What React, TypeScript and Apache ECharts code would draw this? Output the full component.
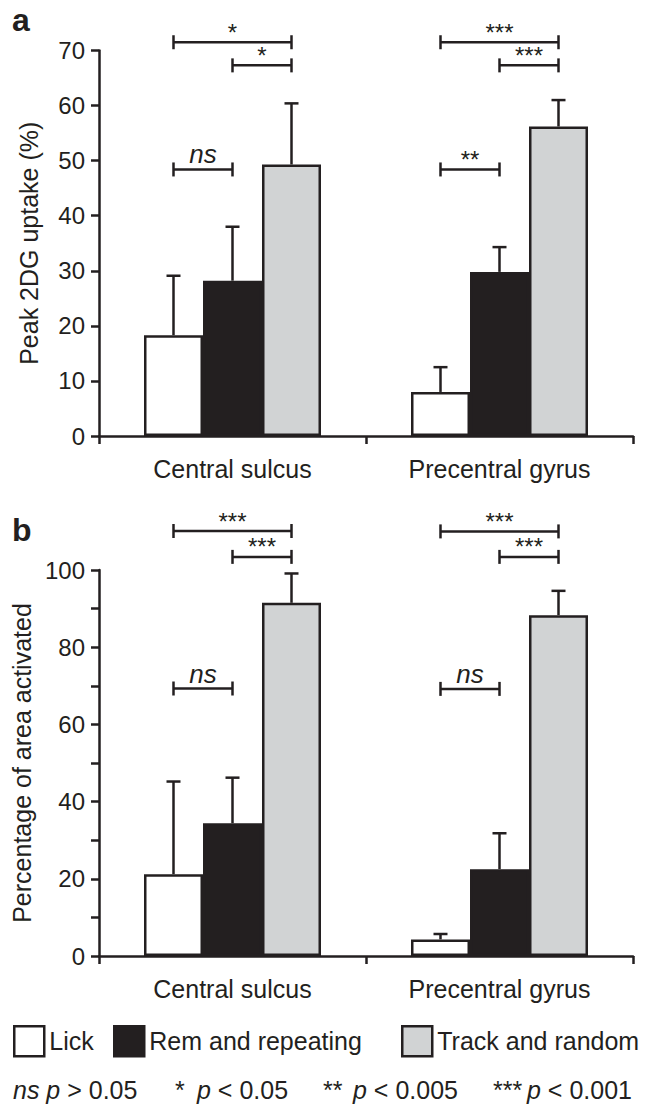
import React, { useEffect, useRef } from "react";
import * as echarts from "echarts";

const categories = ["Central sulcus", "Precentral gyrus"];
const seriesNames = ["Lick", "Rem and repeating", "Track and random"];
const seriesColors = ["#ffffff", "#231f20", "#d1d3d4"];

// Panel a: Peak 2DG uptake (%)
const uptakeMean = [
  [18.3, 8.0],
  [28.2, 29.8],
  [49.3, 56.2],
];
const uptakeErrTop = [
  [29.1, 12.5],
  [38.0, 34.3],
  [60.4, 61.0],
];
// Panel b: Percentage of area activated
const areaMean = [
  [21.2, 4.3],
  [34.4, 22.5],
  [91.5, 88.3],
];
const areaErrTop = [
  [45.2, 5.7],
  [46.2, 31.8],
  [99.1, 94.6],
];

// brackets: [category, fromBar, toBar, yValue]
const bracketsA = [
  [0, 0, 2, 71.5],
  [0, 1, 2, 67.3],
  [0, 0, 1, 48.4],
  [1, 0, 2, 71.5],
  [1, 1, 2, 67.3],
  [1, 0, 1, 48.4],
];
const bracketLabelsA = ["*", "*", "ns", "***", "***", "**"];
const bracketsB = [
  [0, 0, 2, 110.1],
  [0, 1, 2, 103.4],
  [0, 0, 1, 69.3],
  [1, 0, 2, 110.0],
  [1, 1, 2, 103.4],
  [1, 0, 1, 69.2],
];
const bracketLabelsB = ["***", "***", "ns", "***", "***", "ns"];

const FONT = '"Liberation Sans", Arial, Helvetica, sans-serif';
const INK = "#231f20";
const BW = 59;
const LW = 2.5;

function errSeries(gi: number, means: number[][], tops: number[][], k: number) {
  return {
    type: "custom",
    xAxisIndex: gi,
    yAxisIndex: gi,
    silent: true,
    z: 3,
    data: means[k].map((m, c) => [c, m, tops[k][c]]),
    encode: { x: 0, y: [1, 2] },
    renderItem: (params: any, api: any) => {
      const base = api.coord([api.value(0), api.value(1)]);
      const top = api.coord([api.value(0), api.value(2)]);
      const x = base[0] + (k - 1) * BW;
      const st = { stroke: INK, lineWidth: LW };
      return {
        type: "group",
        children: [
          { type: "line", shape: { x1: x, y1: base[1], x2: x, y2: top[1] }, style: st },
          { type: "line", shape: { x1: x - 7, y1: top[1], x2: x + 7, y2: top[1] }, style: st },
        ],
      };
    },
  };
}

function bracketSeries(gi: number, data: number[][], labels: string[]) {
  return {
    type: "custom",
    xAxisIndex: gi,
    yAxisIndex: gi,
    silent: true,
    clip: false,
    z: 4,
    data,
    encode: { x: 0, y: 3 },
    renderItem: (params: any, api: any) => {
      const p = api.coord([api.value(0), api.value(3)]);
      const x1 = p[0] + (api.value(1) - 1) * BW;
      const x2 = p[0] + (api.value(2) - 1) * BW;
      const y = p[1];
      const st = { stroke: INK, lineWidth: LW };
      const lab = labels[params.dataIndex];
      const isNs = lab === "ns";
      return {
        type: "group",
        children: [
          { type: "line", shape: { x1, y1: y, x2, y2: y }, style: st },
          { type: "line", shape: { x1, y1: y - 7, x2: x1, y2: y + 7 }, style: st },
          { type: "line", shape: { x1: x2, y1: y - 7, x2, y2: y + 7 }, style: st },
          {
            type: "text",
            style: {
              text: lab,
              x: (x1 + x2) / 2,
              y: isNs ? y - 15 : y - 10,
              align: "center",
              verticalAlign: "middle",
              fill: INK,
              fontSize: isNs ? 26 : 24,
              fontStyle: isNs ? "italic" : "normal",
              fontFamily: FONT,
            },
          },
        ],
      };
    },
  };
}

export default function App() {
  const ref = useRef<HTMLDivElement>(null);
  useEffect(() => {
    if (!ref.current) return;
    const chart = echarts.init(ref.current, null, { renderer: "svg" });
    const axisLine = { show: true, lineStyle: { color: INK, width: LW } };
    const axisTick = { show: true, length: 8, lineStyle: { color: INK, width: LW } };
    const xAxis = [0, 1].map((gi) => ({
      type: "category",
      gridIndex: gi,
      data: categories,
      axisLine,
      axisTick,
      axisLabel: { color: INK, fontSize: 25, margin: 20, fontFamily: FONT },
      splitLine: { show: false },
    }));
    const yAxis = [
      {
        type: "value",
        gridIndex: 0,
        min: 0,
        max: 70,
        interval: 10,
        name: "Peak 2DG uptake (%)",
        nameLocation: "middle",
        nameGap: 58,
        nameTextStyle: { fontSize: 25, color: INK, fontFamily: FONT },
        axisLine,
        axisTick,
        splitLine: { show: false },
        axisLabel: { color: INK, fontSize: 24, margin: 14, fontFamily: FONT },
      },
      {
        type: "value",
        gridIndex: 1,
        min: 0,
        max: 100,
        interval: 10,
        name: "Percentage of area activated",
        nameLocation: "middle",
        nameGap: 58,
        nameTextStyle: { fontSize: 25, color: INK, fontFamily: FONT },
        axisLine,
        axisTick,
        splitLine: { show: false },
        axisLabel: {
          color: INK,
          fontSize: 24,
          margin: 14,
          fontFamily: FONT,
          formatter: (v: number) => (v % 20 === 0 ? String(v) : ""),
        },
      },
    ];
    const bars: any[] = [];
    [0, 1].forEach((gi) => {
      const means = gi === 0 ? uptakeMean : areaMean;
      seriesNames.forEach((n, k) => {
        bars.push({
          type: "bar",
          name: n,
          xAxisIndex: gi,
          yAxisIndex: gi,
          barWidth: BW,
          barGap: "0%",
          data: means[k],
          itemStyle: { color: seriesColors[k], borderColor: INK, borderWidth: LW },
          silent: true,
        });
      });
    });
    const errs: any[] = [];
    [0, 1, 2].forEach((k) => {
      errs.push(errSeries(0, uptakeMean, uptakeErrTop, k));
      errs.push(errSeries(1, areaMean, areaErrTop, k));
    });
    const legendX = [13, 113, 401];
    const legend = seriesNames.map((n, i) => ({
      data: [n],
      left: legendX[i],
      top: 1025,
      padding: 0,
      icon: "rect",
      itemWidth: 30,
      itemHeight: 30,
      selectedMode: false,
      itemStyle: { borderColor: INK, borderWidth: LW },
      textStyle: { fontSize: 25, color: INK, fontFamily: FONT },
    }));
    const foot = (x: number, text: string) => ({
      type: "text",
      left: x,
      top: 1077,
      style: {
        text,
        fill: INK,
        fontSize: 25,
        lineHeight: 26,
        fontFamily: FONT,
        rich: { i: { fontStyle: "italic", fontSize: 25, lineHeight: 26, fontFamily: FONT, fill: INK } },
      },
    });
    chart.setOption({
      animation: false,
      textStyle: { fontFamily: FONT },
      grid: [
        { left: 99, top: 50.5, width: 534, height: 385.5, outerBoundsMode: "none", containLabel: false },
        { left: 99, top: 570, width: 534, height: 386, outerBoundsMode: "none", containLabel: false },
      ],
      xAxis,
      yAxis,
      legend,
      series: [...bars, ...errs, bracketSeries(0, bracketsA, bracketLabelsA), bracketSeries(1, bracketsB, bracketLabelsB)],
      graphic: [
        { type: "text", left: 12, top: 4, style: { text: "a", fontSize: 32, fontWeight: "bold", fill: INK, fontFamily: FONT } },
        { type: "text", left: 12, top: 514, style: { text: "b", fontSize: 32, fontWeight: "bold", fill: INK, fontFamily: FONT } },
        foot(13, "{i|ns p} > 0.05"),
        foot(175, "*"),
        foot(197, "{i|p} < 0.05"),
        foot(323, "**"),
        foot(353, "{i|p} < 0.005"),
        foot(493, "***"),
        foot(527, "{i|p} < 0.001"),
      ],
    });
    return () => chart.dispose();
  }, []);
  return (
    <div
      ref={ref}
      style={{ position: "absolute", left: 0, top: 0, width: 650, height: 1107, background: "#fff" }}
    />
  );
}
